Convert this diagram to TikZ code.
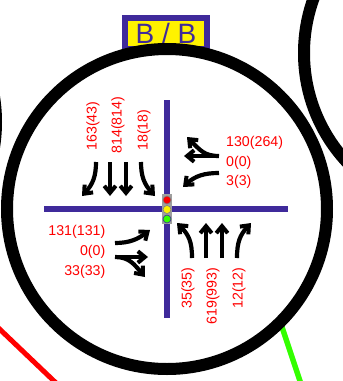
\documentclass[tikz,border=0pt]{standalone}
\usepackage{fontspec}
\setmainfont{Liberation Sans}
\usetikzlibrary{arrows.meta}
\definecolor{roadblue}{HTML}{3F2A9B}
\definecolor{signgreen}{HTML}{33FF00}
\tikzset{
	flow/.style={line width=4.2pt,-{Straight Barb[length=7pt,width=11.5pt,line width=4pt]}},
	count/.style={text=red,font=\fontsize{14.2}{16}\selectfont,inner sep=0pt},
	road/.style={roadblue,line width=5.5pt},
	ring/.style={black,line width=12pt},
	lamp/.style={circle,draw=gray,line width=0.6pt,minimum size=8pt,inner sep=0pt},
}
\begin{document}
\begin{tikzpicture}[x=1pt,y=-1pt]
	\useasboundingbox (0,0) rectangle (343,381);
	\begin{scope}
		\clip (0,0) rectangle (343,381);
		% neighbours
		\draw[line width=5pt,red] (-5,324.7) -- (59,385.8);
		\draw[line width=5.5pt,signgreen] (282,327) -- (302,387);
		\draw[ring] (464,53) circle (160);
		\draw[ring] (-164,122) circle (160);
		% plate
		\node[fill=yellow,draw=roadblue,line width=6pt,minimum width=82pt,minimum height=31pt,inner sep=0pt,text=roadblue,font=\fontsize{28}{28}\selectfont] (plate) at (166,33.5) {B / B};
		\fill[white] (167,209) circle (160);
		\draw[ring] (167,209) circle (160);
	\end{scope}
	% roads
	\draw[road] (44,209) -- (288,209);
	\draw[road] (167,100) -- (167,318);
	% signal
	\node[fill=gray!75,minimum width=10pt,minimum height=30pt,inner sep=0pt] (signal) at (167,209) {};
	\node[lamp,fill=red] (lampr) at (167,200) {};
	\node[lamp,fill=yellow] (lampy) at (167,209.5) {};
	\node[lamp,fill=signgreen,draw=roadblue] (lampg) at (167,219) {};
	% north
	\node[count,rotate=90] (n1) at (93,126) {163(43)};
	\node[count,rotate=90] (n2) at (118,125) {814(814)};
	\node[count,rotate=90] (n3) at (144,130) {18(18)};
	\draw[flow] (96,162) .. controls (96,176) and (93,184) .. (82,196);
	\draw[flow] (110,162) -- (110,196);
	\draw[flow] (126,162) -- (126,196);
	\draw[flow] (141,162) .. controls (141,176) and (144,184) .. (155,196);
	% east
	\node[count,anchor=west] (e1) at (226,143) {130(264)};
	\node[count,anchor=west] (e2) at (226,162.5) {0(0)};
	\node[count,anchor=west] (e3) at (226,182) {3(3)};
	\draw[flow] (219,156) -- (184,156);
	\draw[flow] (219,156) .. controls (204,156) and (200,150) .. (187,137);
	\draw[flow] (219,173) .. controls (204,173) and (195,176) .. (183,187);
	% west
	\node[count,anchor=east] (w1) at (105.5,232) {131(131)};
	\node[count,anchor=east] (w2) at (105.5,252) {0(0)};
	\node[count,anchor=east] (w3) at (105.5,272) {33(33)};
	\draw[flow] (115,243) .. controls (130,243) and (138,239) .. (150,230);
	\draw[flow] (115,257) -- (148,257);
	\draw[flow] (115,257) .. controls (129,257) and (134,264) .. (145,277);
	% south
	\node[count,rotate=90] (s1) at (188,288) {35(35)};
	\node[count,rotate=90] (s2) at (213,296) {619(993)};
	\node[count,rotate=90] (s3) at (239,288) {12(12)};
	\draw[flow] (192,258) .. controls (192,242) and (189,235) .. (177,223);
	\draw[flow] (206,258) -- (206,223);
	\draw[flow] (222,258) -- (222,223);
	\draw[flow] (237,258) .. controls (237,242) and (240,235) .. (251,223);
\end{tikzpicture}
\end{document}
